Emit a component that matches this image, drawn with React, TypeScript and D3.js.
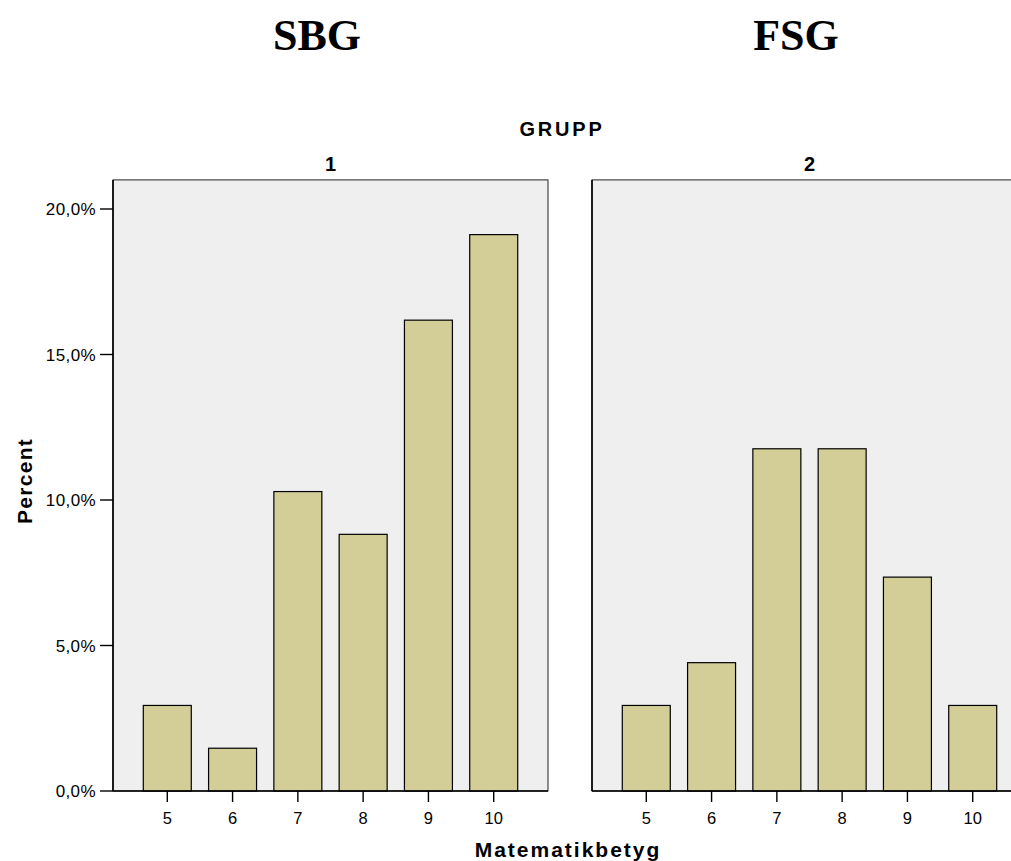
import React from "react";
import * as d3 from "d3";

const categories = ["5", "6", "7", "8", "9", "10"];
const groups = ["1", "2"];
const group1Values = [2.94, 1.47, 10.29, 8.82, 16.18, 19.12];
const group2Values = [2.94, 4.41, 11.76, 11.76, 7.35, 2.94];
const yTicks = [0, 5, 10, 15, 20];
const titles = ["SBG", "FSG"];

const W = 1011;
const H = 861;
const panelX = [113, 592];
const panelW = 435;
const fmt = (v: number) => v.toFixed(1).replace(".", ",") + "%";

export default function App() {
  const y = d3.scaleLinear().domain([0, 20]).range([791, 209]);
  const top = y(21);
  const bottom = y(0);
  const series = [group1Values, group2Values];
  const font = "Arial, 'Liberation Sans', sans-serif";
  return (
    <svg width={W} height={H} style={{ position: "absolute", left: 0, top: 0 }} fontFamily={font}>
      <rect x={0} y={0} width={W} height={H} fill="#fff" />
      <text x={317} y={50} textAnchor="middle" fontFamily="'Liberation Serif', 'Times New Roman', serif" fontWeight="bold" fontSize={44}>{titles[0]}</text>
      <text x={796} y={50} textAnchor="middle" fontFamily="'Liberation Serif', 'Times New Roman', serif" fontWeight="bold" fontSize={44}>{titles[1]}</text>
      <text x={562} y={136} textAnchor="middle" fontWeight="bold" fontSize={20} letterSpacing={2.8}>GRUPP</text>
      {groups.map((g, gi) => {
        const x0 = panelX[gi];
        const x = d3.scaleBand<string>().domain(categories).range([x0, x0 + panelW]).paddingInner(0.265).paddingOuter(0.464);
        return (
          <g key={g}>
            <text x={x0 + panelW / 2} y={171} textAnchor="middle" fontWeight="bold" fontSize={20}>{g}</text>
            <rect x={x0} y={top} width={panelW} height={bottom - top} fill="#EFEFEF" stroke="#222" strokeWidth={1} />
            {series[gi].map((v, i) => (
              <rect key={i} x={x(categories[i])!} y={y(v)} width={x.bandwidth()} height={bottom - y(v)} fill="#D3CE97" stroke="#000" strokeWidth={1.2} />
            ))}
            <line x1={x0} x2={x0 + panelW} y1={bottom} y2={bottom} stroke="#000" strokeWidth={1.6} />
            <line x1={x0} x2={x0} y1={top} y2={bottom} stroke="#000" strokeWidth={1.6} />
            {categories.map((c) => {
              const cx = x(c)! + x.bandwidth() / 2;
              return (
                <g key={c}>
                  <line x1={cx} x2={cx} y1={bottom} y2={bottom + 11} stroke="#000" strokeWidth={1.4} />
                  <text x={cx} y={823.5} textAnchor="middle" fontSize={16.5}>{c}</text>
                </g>
              );
            })}
          </g>
        );
      })}
      {yTicks.map((t) => (
        <g key={t}>
          <line x1={100} x2={113} y1={y(t)} y2={y(t)} stroke="#000" strokeWidth={1.4} />
          <text x={96} y={y(t) + 6} textAnchor="end" fontSize={17} letterSpacing={0.4}>{fmt(t)}</text>
        </g>
      ))}
      <text transform="translate(32,481) rotate(-90)" textAnchor="middle" fontWeight="bold" fontSize={21} letterSpacing={1.3}>Percent</text>
      <text x={568} y={857} textAnchor="middle" fontWeight="bold" fontSize={21} letterSpacing={2}>Matematikbetyg</text>
    </svg>
  );
}
